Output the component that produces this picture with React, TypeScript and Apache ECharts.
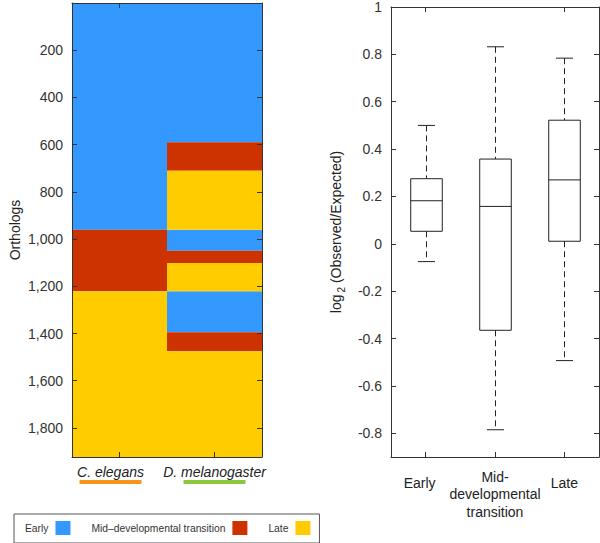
import React, { useEffect, useRef } from 'react';
import * as echarts from 'echarts';

// ---------- data ----------
const species = ['C. elegans', 'D. melanogaster'];
const stageNames = ['Early', 'Mid–developmental transition', 'Late'];
const stageColors = ['#3399FF', '#CC3300', '#FFCC00'];

// ortholog index boundaries of each consecutive block, and the stage of each block
const celegansBreaks = [0, 960, 1221, 1923];
const celegansStages = [0, 1, 2];
const dmelBreaks = [0, 590, 711, 960, 1049, 1101, 1221, 1395, 1475, 1923];
const dmelStages = [0, 1, 2, 0, 1, 2, 0, 1, 2];
const orthologMax = 1923;
const orthologTicks = [200, 400, 600, 800, 1000, 1200, 1400, 1600, 1800];

const boxCategories = ['Early', 'Mid-\ndevelopmental\ntransition', 'Late'];
const whiskerLow = [-0.075, -0.785, -0.493];
const quartile1 = [0.053, -0.365, 0.011];
const medians = [0.182, 0.158, 0.27];
const quartile3 = [0.275, 0.358, 0.522];
const whiskerHigh = [0.5, 0.832, 0.784];
const ratioTicks = [-0.8, -0.6, -0.4, -0.2, 0, 0.2, 0.4, 0.6, 0.8, 1];
const ratioMin = -0.9;
const ratioMax = 1;

const FONT = "'Liberation Sans', Arial, Helvetica, sans-serif";
const AXIS = '#333';
const TEXT = '#333';

function blocksFor(stage: number) {
  const out: number[][] = [];
  celegansStages.forEach((s, k) => {
    if (s === stage) out.push([0, celegansBreaks[k], celegansBreaks[k + 1]]);
  });
  dmelStages.forEach((s, k) => {
    if (s === stage) out.push([1, dmelBreaks[k], dmelBreaks[k + 1]]);
  });
  return out;
}

export default function App() {
  const ref = useRef<HTMLDivElement>(null);
  useEffect(() => {
    if (!ref.current) return;
    const chart = echarts.init(ref.current, null, { renderer: 'svg' });

    const blockSeries = stageNames.map((name, s) => ({
      name,
      type: 'custom',
      xAxisIndex: 0,
      yAxisIndex: 0,
      z: 1,
      itemStyle: { color: stageColors[s] },
      encode: { x: 0, y: [1, 2] },
      data: blocksFor(s),
      renderItem: (params: any, api: any) => {
        const i = api.value(0);
        const p0 = api.coord([i, api.value(1)]);
        const p1 = api.coord([i, api.value(2)]);
        const band = api.size([1, 0])[0];
        return {
          type: 'rect',
          shape: { x: p0[0] - band / 2, y: p0[1], width: band, height: p1[1] - p0[1] },
          style: { fill: stageColors[s] },
        };
      },
    }));

    const boxData = boxCategories.map((_, i) => [
      i, whiskerLow[i], quartile1[i], medians[i], quartile3[i], whiskerHigh[i],
    ]);

    const boxSeries = {
      type: 'custom',
      xAxisIndex: 2,
      yAxisIndex: 2,
      encode: { x: 0, y: [1, 2, 3, 4, 5] },
      data: boxData,
      renderItem: (params: any, api: any) => {
        const i = api.value(0);
        const band = api.size([1, 0])[0];
        const bw = band * 0.455;
        const cw = band * 0.245;
        const cx = Math.round(api.coord([i, 0])[0]) + 0.5;
        const y = (d: number) => api.coord([i, api.value(d)])[1];
        const yLow = y(1), yQ1 = y(2), yMed = y(3), yQ3 = y(4), yHigh = y(5);
        const st = { stroke: '#222', lineWidth: 1, fill: 'none' };
        const dash = { ...st, lineDash: [6, 4] };
        return {
          type: 'group',
          children: [
            { type: 'line', shape: { x1: cx, y1: yHigh, x2: cx, y2: yQ3 }, style: dash },
            { type: 'line', shape: { x1: cx, y1: yQ1, x2: cx, y2: yLow }, style: dash },
            { type: 'line', shape: { x1: cx - cw / 2, y1: yHigh, x2: cx + cw / 2, y2: yHigh }, style: st },
            { type: 'line', shape: { x1: cx - cw / 2, y1: yLow, x2: cx + cw / 2, y2: yLow }, style: st },
            { type: 'rect', shape: { x: cx - bw / 2, y: yQ3, width: bw, height: yQ1 - yQ3 }, style: st },
            { type: 'line', shape: { x1: cx - bw / 2, y1: yMed, x2: cx + bw / 2, y2: yMed }, style: st },
          ],
        };
      },
    };

    const axisLine = { show: true, onZero: false, lineStyle: { color: AXIS, width: 1 } };
    const tickIn = { show: true, inside: true, length: 5, lineStyle: { color: AXIS } };

    const option: any = {
      animation: false,
      textStyle: { fontFamily: FONT },
      grid: [
        { left: 72, top: 3, width: 190, height: 454 },
        { left: 391, top: 3, width: 208, height: 454 },
      ],
      legend: {
        data: stageNames,
        left: 14,
        top: 514,
        orient: 'horizontal',
        align: 'right',
        icon: 'rect',
        itemWidth: 15,
        itemHeight: 14,
        itemGap: 21,
        borderColor: '#555',
        borderWidth: 1,
        borderRadius: 0,
        padding: [7, 9, 8, 11],
        selectedMode: false,
        textStyle: { fontSize: 10.3, color: TEXT, fontFamily: FONT, padding: [0, 2, 0, 0] },
      },
      xAxis: [
        {
          type: 'category',
          gridIndex: 0,
          position: 'bottom',
          z: 10,
          data: species.map((s, i) =>
            i === 0 ? { value: s, textStyle: { padding: [0, 18, 0, 0] } } : s
          ),
          axisLine,
          axisTick: { ...tickIn, alignWithLabel: true },
          axisLabel: {
            margin: 6,
            interval: 0,
            formatter: (v: string, i: number) => `{t|${v}}\n{u${i}| }`,
            rich: {
              t: { fontSize: 14, fontStyle: 'italic', lineHeight: 17, color: '#222', fontFamily: FONT },
              u0: { backgroundColor: '#F7941D', width: 62, height: 4, lineHeight: 4, fontSize: 1 },
              u1: { backgroundColor: '#8DC63F', width: 62, height: 4, lineHeight: 4, fontSize: 1 },
            },
          },
        },
        {
          type: 'category',
          gridIndex: 0,
          position: 'top',
          z: 10,
          data: species,
          axisLine,
          axisTick: { ...tickIn, alignWithLabel: true },
          axisLabel: { show: false },
        },
        {
          type: 'category',
          gridIndex: 1,
          position: 'bottom',
          z: 10,
          data: boxCategories.map((c, i) =>
            i === 0
              ? { value: c, textStyle: { lineHeight: 30, padding: [0, 12, 0, 0] } }
              : i === 2
              ? { value: c, textStyle: { lineHeight: 30 } }
              : c
          ),
          axisLine,
          axisTick: { ...tickIn, alignWithLabel: true },
          axisLabel: { margin: 11, interval: 0, fontSize: 14, lineHeight: 17.5, color: '#222', fontFamily: FONT },
        },
        {
          type: 'category',
          gridIndex: 1,
          position: 'top',
          z: 10,
          data: boxCategories,
          axisLine,
          axisTick: { ...tickIn, alignWithLabel: true },
          axisLabel: { show: false },
        },
      ],
      yAxis: [
        {
          type: 'value',
          gridIndex: 0,
          position: 'left',
          z: 10,
          inverse: true,
          min: 0,
          max: orthologMax,
          splitLine: { show: false },
          axisLine,
          axisTick: { ...tickIn, customValues: orthologTicks },
          axisLabel: {
            customValues: orthologTicks,
            margin: 9,
            fontSize: 14,
            color: TEXT,
            fontFamily: FONT,
            formatter: (v: number) => v.toLocaleString('en-US'),
          },
          name: 'Orthologs',
          nameLocation: 'middle',
          nameGap: 50,
          nameTextStyle: { fontSize: 14, color: '#222', fontFamily: FONT },
        },
        {
          type: 'value',
          gridIndex: 0,
          position: 'right',
          z: 10,
          inverse: true,
          min: 0,
          max: orthologMax,
          splitLine: { show: false },
          axisLine,
          axisTick: { ...tickIn, customValues: orthologTicks },
          axisLabel: { show: false },
        },
        {
          type: 'value',
          gridIndex: 1,
          position: 'left',
          z: 10,
          min: ratioMin,
          max: ratioMax,
          splitLine: { show: false },
          axisLine,
          axisTick: { ...tickIn, customValues: ratioTicks },
          axisLabel: {
            customValues: ratioTicks,
            margin: 9,
            fontSize: 14,
            color: TEXT,
            fontFamily: FONT,
            formatter: (v: number) => String(Math.round(v * 10) / 10),
          },
          name: '{a|log}{b|2}{a| (Observed/Expected)}',
          nameLocation: 'middle',
          nameGap: 45,
          nameTextStyle: {
            fontFamily: FONT,
            rich: {
              a: { fontSize: 14, color: '#222', fontFamily: FONT, lineHeight: 20, verticalAlign: 'middle' },
              b: { fontSize: 10, color: '#222', fontFamily: FONT, lineHeight: 20, verticalAlign: 'bottom', padding: [0, 0, 0, 2] },
            },
          },
        },
        {
          type: 'value',
          gridIndex: 1,
          position: 'right',
          z: 10,
          min: ratioMin,
          max: ratioMax,
          splitLine: { show: false },
          axisLine,
          axisTick: { ...tickIn, customValues: ratioTicks },
          axisLabel: { show: false },
        },
      ],
      series: [...blockSeries, boxSeries],
    };

    chart.setOption(option);
    return () => chart.dispose();
  }, []);

  return (
    <div
      ref={ref}
      style={{ position: 'absolute', left: 0, top: 0, width: 600, height: 543 }}
    />
  );
}
